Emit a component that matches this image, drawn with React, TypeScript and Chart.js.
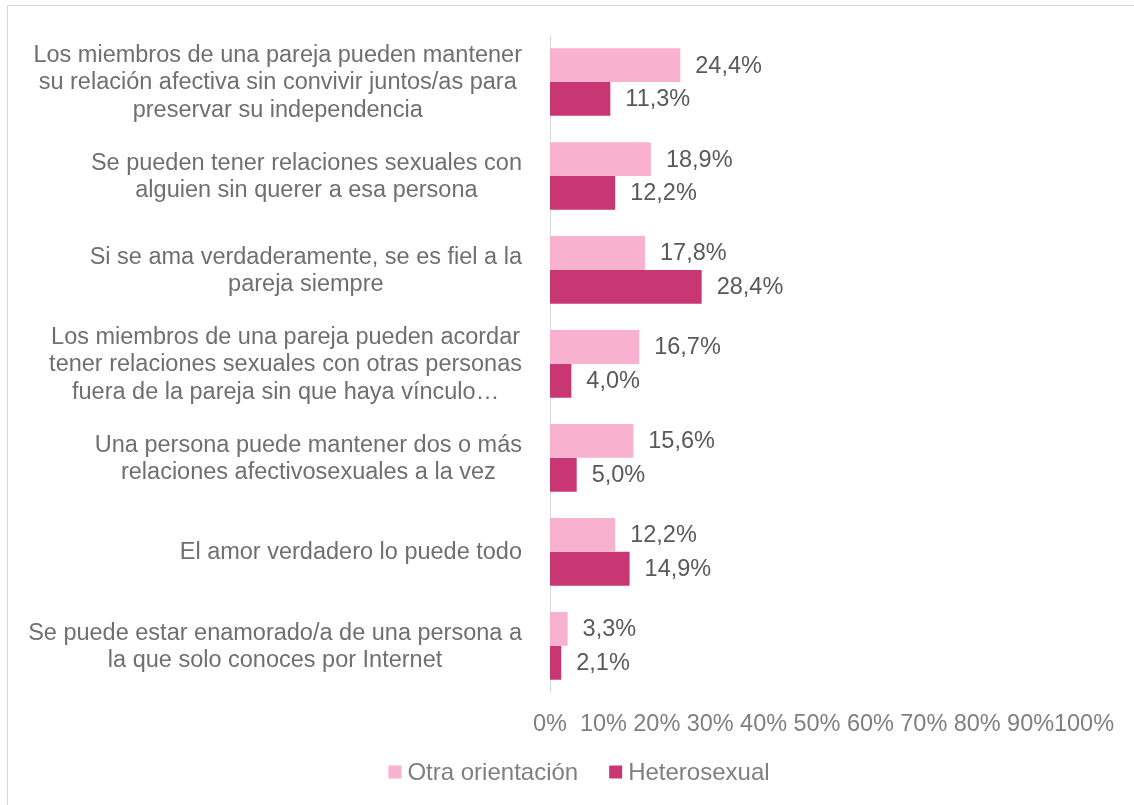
import React, { useEffect, useRef } from "react";
import { Chart, registerables } from "chart.js";

Chart.register(...registerables);

const CATEGORY_LABELS: string[][] = [
  ["Los miembros de una pareja pueden mantener", "su relación afectiva sin convivir juntos/as para", "preservar su independencia"],
  ["Se pueden tener relaciones sexuales con", "alguien sin querer a esa persona"],
  ["Si se ama verdaderamente, se es fiel a la", "pareja siempre"],
  ["Los miembros de una pareja pueden acordar", "tener relaciones sexuales con otras personas", "fuera de la pareja sin que haya vínculo…"],
  ["Una persona puede mantener dos o más", "relaciones afectivosexuales a la vez"],
  ["El amor verdadero lo puede todo"],
  ["Se puede estar enamorado/a de una persona a", "la que solo conoces por Internet"],
];

const SERIES_NAMES = ["Otra orientación", "Heterosexual"];
const OTRA_VALUES = [24.4, 18.9, 17.8, 16.7, 15.6, 12.2, 3.3];
const HETERO_VALUES = [11.3, 12.2, 28.4, 4.0, 5.0, 14.9, 2.1];
const X_TICKS = [0, 10, 20, 30, 40, 50, 60, 70, 80, 90, 100];

const FONT = "'Liberation Sans', Arial, sans-serif";
const LIGHT = "#F8B2D0";
const DARK = "#C83674";
const CANVAS_LEFT = 8;
const LEGEND_CENTER_X = 579 - CANVAS_LEFT;

const fmt = (v: number) => v.toFixed(1).replace(".", ",") + "%";

const labelsPlugin = {
  id: "customLabels",
  afterDatasetsDraw(chart: any) {
    const ctx = chart.ctx;
    ctx.save();
    // data labels
    ctx.font = `23.5px ${FONT}`;
    ctx.fillStyle = "#595959";
    ctx.textAlign = "left";
    ctx.textBaseline = "middle";
    chart.data.datasets.forEach((ds: any, di: number) => {
      const meta = chart.getDatasetMeta(di);
      meta.data.forEach((bar: any, i: number) => {
        ctx.fillText(fmt(ds.data[i]), bar.x + 15, bar.y + 1);
      });
    });
    // category labels
    const yScale = chart.scales.y;
    const rightX = chart.chartArea.left - 28;
    const lh = 27.5;
    ctx.fillStyle = "#6f6f6f";
    ctx.textAlign = "center";
    CATEGORY_LABELS.forEach((lines, i) => {
      const cy = yScale.getPixelForTick(i) + 1;
      const maxW = Math.max(...lines.map((l) => ctx.measureText(l).width));
      const cx = rightX - maxW / 2;
      lines.forEach((line, j) => {
        ctx.fillText(line, cx, cy + (j - (lines.length - 1) / 2) * lh);
      });
    });
    // legend
    ctx.font = `24px ${FONT}`;
    ctx.textAlign = "left";
    const box = 13;
    const boxGap = 6;
    const itemGap = 31;
    const colors = [LIGHT, DARK];
    const widths = SERIES_NAMES.map((n) => box + boxGap + ctx.measureText(n).width);
    const total = widths.reduce((a, b) => a + b, 0) + itemGap * (widths.length - 1);
    let x = LEGEND_CENTER_X - total / 2;
    const ly = 772 - 6;
    SERIES_NAMES.forEach((n, i) => {
      ctx.fillStyle = colors[i];
      ctx.fillRect(x, ly - box / 2, box, box);
      ctx.fillStyle = "#7f7f7f";
      ctx.fillText(n, x + box + boxGap, ly + 1);
      x += widths[i] + itemGap;
    });
    ctx.restore();
  },
};

export default function App() {
  const ref = useRef<HTMLCanvasElement | null>(null);
  useEffect(() => {
    if (!ref.current) return;
    const chart = new Chart(ref.current, {
      type: "bar",
      data: {
        labels: CATEGORY_LABELS.map((l) => l.join(" ")),
        datasets: [
          { label: SERIES_NAMES[0], data: OTRA_VALUES, backgroundColor: LIGHT, borderWidth: 0 },
          { label: SERIES_NAMES[1], data: HETERO_VALUES, backgroundColor: DARK, borderWidth: 0 },
        ],
      },
      options: {
        indexAxis: "y",
        animation: false,
        responsive: false,
        maintainAspectRatio: false,
        layout: { padding: { top: 29, left: 542, right: 66, bottom: 48 } },
        datasets: { bar: { categoryPercentage: 0.72, barPercentage: 1.0 } },
        scales: {
          x: {
            min: 0,
            max: 100,
            afterBuildTicks: (scale: any) => {
              scale.ticks = X_TICKS.map((v) => ({ value: v }));
            },
            ticks: {
              autoSkip: false,
              maxRotation: 0,
              padding: 18,
              color: "#7f7f7f",
              font: { family: FONT, size: 23.5 },
              callback: (v: any) => v + "%",
            },
            grid: { display: false, drawTicks: false },
            border: { display: false },
          },
          y: {
            ticks: { display: false },
            grid: { display: false, drawTicks: false },
            border: { display: true, color: "#d9d9d9", width: 1 },
          },
        },
        plugins: {
          legend: { display: false },
          tooltip: { enabled: false },
        },
      },
      plugins: [labelsPlugin],
    });
    return () => chart.destroy();
  }, []);

  return (
    <div style={{ position: "fixed", left: 0, top: 0, width: 1134, height: 805, overflow: "hidden", background: "#fff" }}>
      <div style={{ position: "absolute", left: 7, top: 5, width: 1200, height: 900, border: "1px solid #d9d9d9", boxSizing: "border-box" }} />
      <canvas ref={ref} width={1142} height={799} style={{ position: "absolute", left: CANVAS_LEFT, top: 6, width: 1142, height: 799 }} />
    </div>
  );
}
